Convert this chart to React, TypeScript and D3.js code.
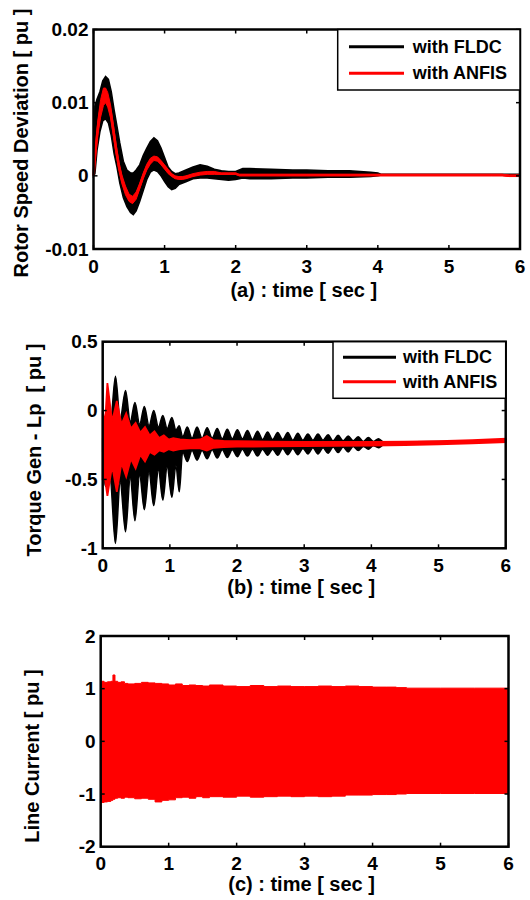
import React from "react";
import * as d3 from "d3";

// ---------- shared ----------
const timeTicks = [0, 1, 2, 3, 4, 5, 6];
const timeTickLabels = ["0", "1", "2", "3", "4", "5", "6"];
const legendNames = ["with FLDC", "with ANFIS"];
const seriesColors = ["#000000", "#ff0000"];

// ---------- panel (a): rotor speed deviation ----------
const aYTicks = [-0.01, 0, 0.01, 0.02];
const aYTickLabels = ["-0.01", "0", "0.01", "0.02"];
const aFldcT = [0, 0.02, 0.05, 0.09, 0.13, 0.17, 0.21, 0.25, 0.29, 0.33, 0.37, 0.42, 0.47, 0.52, 0.56, 0.6, 0.65, 0.7, 0.75, 0.8, 0.85, 0.9, 0.95, 1.0, 1.05, 1.1, 1.15, 1.2, 1.3, 1.4, 1.5, 1.6, 1.7, 1.8, 1.9, 2.0, 2.1, 2.2, 2.5, 2.8, 3.0, 3.3, 3.6, 3.9, 4.0, 4.05, 6.0];
const aFldcHi = [0.0005, 0.0095, 0.0105, 0.0115, 0.013, 0.0136, 0.0132, 0.0115, 0.009, 0.0068, 0.0045, 0.002, 0.0008, 0.0004, 0.0004, 0.0008, 0.0015, 0.0028, 0.0038, 0.0047, 0.0052, 0.0048, 0.0038, 0.0025, 0.0012, 0.0006, 0.0003, 0.0004, 0.0008, 0.0012, 0.0015, 0.0013, 0.0009, 0.0007, 0.0006, 0.0006, 0.001, 0.001, 0.0009, 0.0008, 0.0008, 0.0007, 0.0007, 0.0005, 0.0004, 0.0002, 0.0002];
const aFldcLo = [0, 0.0003, 0.0035, 0.006, 0.0075, 0.0078, 0.0072, 0.0055, 0.003, 0.0012, -0.001, -0.003, -0.0042, -0.005, -0.0053, -0.0048, -0.0035, -0.002, -0.0005, 0.0005, 0.0008, 0.0006, 0.0, -0.0008, -0.0015, -0.0019, -0.0017, -0.0012, -0.0008, -0.0004, -0.0003, -0.0003, -0.0004, -0.0005, -0.0006, -0.0005, -0.0003, -0.0004, -0.0004, -0.0003, -0.0003, -0.0002, -0.0002, -0.0001, 0.0, 0.0001, 0.0001];
const aAnfisT = [0, 0.03, 0.06, 0.1, 0.14, 0.17, 0.2, 0.24, 0.28, 0.32, 0.36, 0.4, 0.45, 0.5, 0.55, 0.6, 0.65, 0.7, 0.75, 0.8, 0.85, 0.9, 0.95, 1.0, 1.05, 1.1, 1.15, 1.2, 1.25, 1.3, 1.4, 1.5, 1.6, 1.7, 1.8, 1.9, 2.0, 2.05, 2.1, 3.0, 4.0, 5.0, 5.6, 5.75, 5.85, 6.0];
const aAnfisV = [0, 0.0035, 0.0065, 0.0092, 0.0108, 0.011, 0.0104, 0.0088, 0.0062, 0.0035, 0.0012, -0.0005, -0.002, -0.003, -0.0033, -0.0027, -0.0014, 0.0, 0.0012, 0.002, 0.0024, 0.0023, 0.0018, 0.0012, 0.0006, 0.0001, -0.0002, -0.0003, -0.0003, -0.0002, 0.0001, 0.0003, 0.0004, 0.0004, 0.0003, 0.0003, 0.0003, 0.0001, 0.0001, 0.0001, 0.0001, 0.0001, 0.0001, 0.0001, 0.0, 0.0];
const aAnfisHalf = [0.0002, 0.0008, 0.001, 0.0012, 0.0012, 0.001, 0.001, 0.0009, 0.0008, 0.0007, 0.0006, 0.0006, 0.0006, 0.0005, 0.0005, 0.0005, 0.0004, 0.0004, 0.0004, 0.0004, 0.0003, 0.0003, 0.0003, 0.0003, 0.0003, 0.0002, 0.0002, 0.0002, 0.0002, 0.0002, 0.0002, 0.0002, 0.0002, 0.0002, 0.0001, 0.0001, 0.0001, 0.0001, 0.0001, 0.0001, 0.0001, 0.0001, 0.0001, 0.0001, 0.0001, 0.0001];

// ---------- panel (b): torque ----------
const bYTicks = [-1, -0.5, 0, 0.5];
const bYTickLabels = ["-1", "-0.5", "0", "0.5"];
const bFldcT = [0, 0.04, 0.11, 0.19, 0.26, 0.34, 0.41, 0.48, 0.55, 0.62, 0.69, 0.76, 0.83, 0.895, 0.96, 1.03, 1.09, 1.14, 1.19, 1.26, 1.33, 1.405, 1.48, 1.555, 1.63, 1.705, 1.78, 1.855, 1.93, 2.005, 2.08, 2.155, 2.23, 2.305, 2.38, 2.455, 2.53, 2.605, 2.68, 2.755, 2.83, 2.905, 2.98, 3.055, 3.13, 3.205, 3.28, 3.355, 3.43, 3.505, 3.58, 3.655, 3.73, 3.805, 3.88, 3.955, 4.03, 4.105, 4.18, 4.3, 5.0, 6.0];
const bFldcHi = [-0.2, -0.05, -0.12, 0.25, -0.06, 0.145, -0.08, 0.058, -0.1, 0.03, -0.11, 0.0, -0.12, -0.035, -0.13, -0.05, -0.14, -0.11, -0.19, -0.12, -0.2, -0.12, -0.2, -0.125, -0.2, -0.13, -0.205, -0.135, -0.205, -0.14, -0.205, -0.145, -0.21, -0.15, -0.21, -0.155, -0.21, -0.16, -0.21, -0.16, -0.215, -0.165, -0.215, -0.17, -0.215, -0.17, -0.215, -0.175, -0.22, -0.18, -0.22, -0.185, -0.22, -0.19, -0.225, -0.195, -0.225, -0.205, -0.228, -0.228, -0.225, -0.212];
const bFldcLo = [-0.3, -0.55, -0.5, -0.965, -0.52, -0.88, -0.49, -0.8, -0.47, -0.72, -0.45, -0.69, -0.43, -0.65, -0.41, -0.63, -0.4, -0.59, -0.3, -0.37, -0.29, -0.36, -0.29, -0.35, -0.285, -0.345, -0.285, -0.34, -0.285, -0.335, -0.28, -0.33, -0.28, -0.33, -0.28, -0.325, -0.28, -0.325, -0.275, -0.32, -0.275, -0.32, -0.275, -0.315, -0.27, -0.315, -0.27, -0.31, -0.265, -0.305, -0.265, -0.3, -0.26, -0.29, -0.26, -0.28, -0.255, -0.27, -0.25, -0.245, -0.238, -0.222];
const bAnfisT = [0, 0.035, 0.07, 0.14, 0.21, 0.28, 0.35, 0.42, 0.49, 0.56, 0.63, 0.7, 0.77, 0.84, 0.91, 0.98, 1.05, 1.15, 1.3, 1.45, 1.55, 1.65, 1.8, 2.0, 2.5, 3.0, 3.5, 4.0, 4.5, 5.0, 5.5, 6.0];
const bAnfisHi = [0.0, -0.1, 0.2, -0.08, 0.07, -0.1, -0.02, -0.13, -0.09, -0.16, -0.12, -0.18, -0.15, -0.2, -0.18, -0.21, -0.2, -0.21, -0.215, -0.21, -0.185, -0.215, -0.22, -0.222, -0.225, -0.227, -0.227, -0.228, -0.226, -0.222, -0.215, -0.205];
const bAnfisLo = [-0.5, -0.5, -0.62, -0.4, -0.59, -0.38, -0.48, -0.35, -0.42, -0.32, -0.37, -0.3, -0.32, -0.29, -0.3, -0.28, -0.29, -0.28, -0.275, -0.275, -0.29, -0.27, -0.265, -0.262, -0.26, -0.258, -0.256, -0.254, -0.25, -0.245, -0.238, -0.229];

// ---------- panel (c): line current ----------
const cYTicks = [-2, -1, 0, 1, 2];
const cYTickLabels = ["-2", "-1", "0", "1", "2"];
const cT = [0, 0.05, 0.1, 0.15, 0.18, 0.21, 0.25, 0.3, 0.35, 0.4, 0.5, 0.6, 0.7, 0.8, 0.9, 1.0, 1.1, 1.2, 1.3, 1.4, 1.5, 1.6, 1.8, 2.0, 2.2, 2.4, 2.6, 2.8, 3.0, 3.2, 3.4, 3.6, 3.8, 4.0, 4.2, 4.35, 4.5, 5.0, 5.5, 6.0];
const cHi = [1.14, 1.12, 1.13, 1.14, 1.26, 1.14, 1.12, 1.13, 1.1, 1.09, 1.1, 1.12, 1.11, 1.1, 1.09, 1.07, 1.09, 1.06, 1.07, 1.06, 1.05, 1.07, 1.05, 1.04, 1.06, 1.04, 1.05, 1.04, 1.04, 1.05, 1.04, 1.05, 1.04, 1.03, 1.03, 1.02, 1.01, 1.01, 1.01, 1.01];
const cLo = [-1.16, -1.15, -1.14, -1.12, -1.1, -1.08, -1.07, -1.08, -1.06, -1.07, -1.09, -1.08, -1.1, -1.15, -1.12, -1.11, -1.07, -1.06, -1.08, -1.05, -1.07, -1.05, -1.06, -1.04, -1.06, -1.05, -1.04, -1.05, -1.04, -1.05, -1.04, -1.02, -1.02, -1.01, -1.01, -1.0, -0.99, -0.99, -0.99, -0.99];

const FONT = "'Liberation Sans', Arial, Helvetica, sans-serif";
const TICK_FS = 19;
const LABEL_FS = 20;
const LEGEND_FS = 18;

type Box = { l: number; r: number; t: number; b: number };
type Legend = { l: number; t: number; b: number; x1: number; x2: number; tx: number; rows: number[] };
type Scale = d3.ScaleLinear<number, number>;

function bandPath(T: number[], lo: number[], hi: number[], x: Scale, y: Scale, curve: d3.CurveFactory = d3.curveLinear) {
  const gen = d3
    .area<number>()
    .x((_, i) => x(T[i]))
    .y0((_, i) => y(lo[i]))
    .y1((_, i) => y(hi[i]))
    .curve(curve);
  return gen(T) || "";
}

function Panel(props: {
  box: Box;
  yDomain: [number, number];
  yTicks: number[];
  yTickLabels: string[];
  xLabel: string;
  yLabel: string;
  yLabelPos: [number, number];
  xLabelBase: number;
  legend?: Legend;
  render: (x: Scale, y: Scale) => React.ReactNode;
}) {
  const { box, yDomain, yTicks, yTickLabels, xLabel, yLabel, yLabelPos, xLabelBase, legend, render } = props;
  const x = d3.scaleLinear().domain([0, 6]).range([box.l, box.r]);
  const y = d3.scaleLinear().domain(yDomain).range([box.b, box.t]);
  const tl = 4;
  return (
    <g>
      {render(x, y)}
      {timeTicks.map((t, i) => (
        <g key={"xt" + i}>
          <line x1={x(t)} x2={x(t)} y1={box.b} y2={box.b - tl} stroke="#000" strokeWidth={1.5} />
          <line x1={x(t)} x2={x(t)} y1={box.t} y2={box.t + tl} stroke="#000" strokeWidth={1.5} />
          <text x={x(t)} y={box.b + 17} textAnchor="middle" dominantBaseline="central" fontSize={TICK_FS} fontWeight="bold" fontFamily={FONT}>
            {timeTickLabels[i]}
          </text>
        </g>
      ))}
      {yTicks.map((v, i) => (
        <g key={"yt" + i}>
          <line x1={box.l} x2={box.l + tl} y1={y(v)} y2={y(v)} stroke="#000" strokeWidth={1.5} />
          <line x1={box.r} x2={box.r - tl} y1={y(v)} y2={y(v)} stroke="#000" strokeWidth={1.5} />
          <text x={box.l - 5} y={y(v)} textAnchor="end" dominantBaseline="central" fontSize={TICK_FS} fontWeight="bold" fontFamily={FONT}>
            {yTickLabels[i]}
          </text>
        </g>
      ))}
      <rect x={box.l} y={box.t} width={box.r - box.l} height={box.b - box.t} fill="none" stroke="#000" strokeWidth={2.5} />
      {legend && (
        <g>
          <rect x={legend.l} y={legend.t} width={box.r - legend.l} height={legend.b - legend.t} fill="#fff" stroke="#000" strokeWidth={1.5} />
          {legendNames.map((name, i) => (
            <g key={"lg" + i}>
              <line x1={legend.x1} x2={legend.x2} y1={legend.rows[i]} y2={legend.rows[i]} stroke={seriesColors[i]} strokeWidth={3} />
              <text x={legend.tx} y={legend.rows[i]} dominantBaseline="central" fontSize={LEGEND_FS} fontWeight="bold" fontFamily={FONT}>
                {name}
              </text>
            </g>
          ))}
        </g>
      )}
      <text x={(box.l + box.r) / 2 - 3} y={xLabelBase} textAnchor="middle" fontSize={LABEL_FS} fontWeight="bold" fontFamily={FONT} style={{ whiteSpace: "pre" }}>
        {xLabel}
      </text>
      <text
        transform={`translate(${yLabelPos[0]},${yLabelPos[1]}) rotate(-90)`}
        textAnchor="middle"
        dominantBaseline="central"
        fontSize={LABEL_FS}
        fontWeight="bold"
        fontFamily={FONT}
        style={{ whiteSpace: "pre" }}
      >
        {yLabel}
      </text>
    </g>
  );
}

export default function App() {
  return (
    <svg width={530} height={900} viewBox="0 0 530 900" style={{ position: "absolute", left: 0, top: 0, background: "#fff" }}>
      <rect x={0} y={0} width={530} height={900} fill="#fff" />
      <Panel
        box={{ l: 93.5, r: 520, t: 29.5, b: 249 }}
        yDomain={[-0.01, 0.02]}
        yTicks={aYTicks}
        yTickLabels={aYTickLabels}
        xLabel="(a) : time [ sec ]"
        yLabel="Rotor Speed Deviation [ pu ]"
        yLabelPos={[21, 143]}
        xLabelBase={297}
        legend={{ l: 337.7, t: 29.5, b: 90, x1: 349, x2: 404, tx: 412.7, rows: [46.7, 73.3] }}
        render={(x, y) => {
          const redLine = d3
            .line<number>()
            .x((_, i) => x(aAnfisT[i]))
            .y((_, i) => y(aAnfisV[i]))(aAnfisT) || "";
          const redLo = aAnfisV.map((v, i) => v - aAnfisHalf[i]);
          const redHi = aAnfisV.map((v, i) => v + aAnfisHalf[i]);
          return (
            <g>
              <path d={bandPath(aFldcT, aFldcLo, aFldcHi, x, y)} fill={seriesColors[0]} stroke={seriesColors[0]} strokeWidth={1.5} />
              <path d={bandPath(aAnfisT, redLo, redHi, x, y)} fill={seriesColors[1]} stroke={seriesColors[1]} strokeWidth={1} />
              <path d={redLine} fill="none" stroke={seriesColors[1]} strokeWidth={2.5} />
            </g>
          );
        }}
      />
      <Panel
        box={{ l: 102.7, r: 505.7, t: 341.7, b: 548.3 }}
        yDomain={[-1, 0.5]}
        yTicks={bYTicks}
        yTickLabels={bYTickLabels}
        xLabel="(b) : time [ sec ]"
        yLabel="Torque Gen - Lp  [ pu ]"
        yLabelPos={[34, 450]}
        xLabelBase={594}
        legend={{ l: 333, t: 341.7, b: 398.3, x1: 343, x2: 396, tx: 403, rows: [357.3, 381.7] }}
        render={(x, y) => (
          <g>
            <path d={bandPath(bFldcT, bFldcLo, bFldcHi, x, y, d3.curveMonotoneX)} fill={seriesColors[0]} stroke={seriesColors[0]} strokeWidth={1.5} />
            <path d={bandPath(bAnfisT, bAnfisLo, bAnfisHi, x, y)} fill={seriesColors[1]} stroke={seriesColors[1]} strokeWidth={1.8} />
          </g>
        )}
      />
      <Panel
        box={{ l: 100.7, r: 508.5, t: 636, b: 846.7 }}
        yDomain={[-2, 2]}
        yTicks={cYTicks}
        yTickLabels={cYTickLabels}
        xLabel="(c) : time [ sec ]"
        yLabel="Line Current [ pu ]"
        yLabelPos={[31.7, 756]}
        xLabelBase={891}
        render={(x, y) => (
          <path d={bandPath(cT, cLo, cHi, x, y, d3.curveStepAfter)} fill={seriesColors[1]} stroke={seriesColors[1]} strokeWidth={1} />
        )}
      />
    </svg>
  );
}
